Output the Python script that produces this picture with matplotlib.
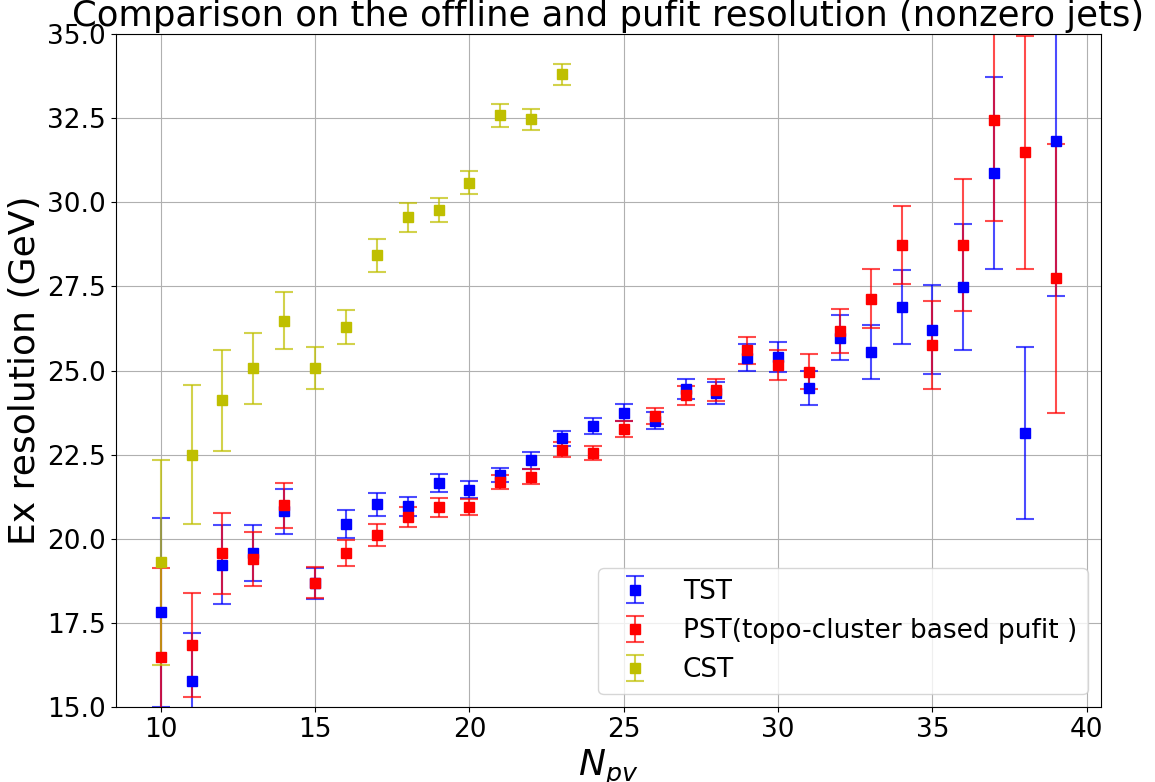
import numpy as np
import matplotlib
matplotlib.use('Agg')
from matplotlib import pyplot as plt

npv = list(range(10, 40))

tst = [17.81, 15.76, 19.23, 19.57, 20.82, 18.68, 20.43, 21.02, 20.96, 21.65,
       21.46, 21.89, 22.33, 22.98, 23.36, 23.75, 23.51, 24.45, 24.34, 25.38,
       25.40, 24.48, 25.98, 25.55, 26.88, 26.21, 27.48, 30.87, 23.14, 31.82]
tst_err = [2.82, 1.45, 1.18, 0.83, 0.67, 0.46, 0.41, 0.35, 0.29, 0.26,
           0.26, 0.21, 0.25, 0.21, 0.24, 0.25, 0.26, 0.30, 0.33, 0.40,
           0.45, 0.51, 0.66, 0.80, 1.10, 1.32, 1.87, 2.86, 2.56, 4.61]

pst = [16.50, 16.84, 19.57, 19.40, 21.00, 18.70, 19.57, 20.12, 20.65, 20.93,
       20.94, 21.68, 21.84, 22.65, 22.55, 23.25, 23.65, 24.26, 24.41, 25.60,
       25.17, 24.96, 26.17, 27.14, 28.73, 25.76, 28.73, 32.45, 31.48, 27.74]
pst_err = [2.62, 1.55, 1.21, 0.80, 0.67, 0.46, 0.38, 0.33, 0.29, 0.27,
           0.24, 0.21, 0.22, 0.22, 0.22, 0.24, 0.25, 0.29, 0.33, 0.40,
           0.45, 0.52, 0.65, 0.87, 1.17, 1.30, 1.96, 3.00, 3.47, 4.00]

npv_cst = list(range(10, 24))
cst = [19.30, 22.50, 24.12, 25.06, 26.48, 25.07, 26.30, 28.42, 29.55, 29.77,
       30.58, 32.58, 32.46, 33.80]
cst_err = [3.05, 2.07, 1.50, 1.05, 0.85, 0.62, 0.51, 0.48, 0.42, 0.37,
           0.34, 0.34, 0.32, 0.32]

fig = plt.figure(figsize=(11.55, 7.82), dpi=100)
ax = fig.add_axes([0.1004, 0.0959, 0.8526, 0.8606])

series = [(npv, tst, tst_err, 'b', 'TST'),
          (npv, pst, pst_err, 'r', 'PST(topo-cluster based pufit )'),
          (npv_cst, cst, cst_err, 'y', 'CST')]

for x, y, e, c, lab in series:
    cont = ax.errorbar(x, y, yerr=e, fmt='s', color=c, markersize=7,
                       capsize=6.5, elinewidth=1.5, capthick=1.5, label=lab)
    # error bars look a bit see-through in the original
    for cap in cont[1]:
        cap.set_alpha(0.7)
    for bar in cont[2]:
        bar.set_alpha(0.7)

ax.set_ylim(15, 35)
ax.set_yticks(np.arange(15, 35.1, 2.5))
ax.grid(True)
ax.tick_params(labelsize=19)
ax.set_xlabel('$N_{pv}$', fontsize=26)
ax.set_ylabel('Ex resolution (GeV)', fontsize=26)
ax.set_title('Comparison on the offline and pufit resolution (nonzero jets)', fontsize=25.5)
ax.legend(loc='lower right', fontsize=19)

fig.savefig('out.png', dpi=100)
